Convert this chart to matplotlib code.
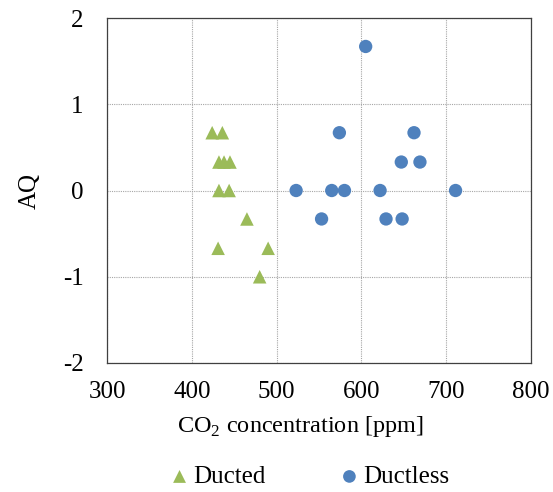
import matplotlib
matplotlib.use("Agg")
import matplotlib.pyplot as plt

plt.rcParams['font.family'] = ['Liberation Serif', 'DejaVu Serif']
plt.rcParams['mathtext.fontset'] = 'custom'
plt.rcParams['mathtext.rm'] = 'Liberation Serif'
plt.rcParams['axes.unicode_minus'] = False

# Ducted units: CO2 concentration [ppm] vs AQ
ducted_co2 = [424, 436, 432, 438, 445, 432, 444, 465, 431, 490, 480]
ducted_aq = [0.67, 0.67, 0.33, 0.33, 0.33, 0, 0, -0.33, -0.67, -0.67, -1]

# Ductless units
ductless_co2 = [605, 574, 662, 647, 669, 523, 565, 580, 622, 711, 553, 629, 648]
ductless_aq = [1.67, 0.67, 0.67, 0.33, 0.33, 0, 0, 0, 0, 0, -0.33, -0.33, -0.33]

fig = plt.figure(figsize=(5.53, 4.92), dpi=100)
ax = fig.add_axes([0.1935, 0.2622, 0.7668, 0.7012])

ax.scatter(ducted_co2, ducted_aq, marker='^', s=95, color='#9BBB59',
           edgecolors='none', label='Ducted', zorder=3)
ax.scatter(ductless_co2, ductless_aq, marker='o', s=92, color='#4F81BD',
           edgecolors='none', label='Ductless', zorder=3)

ax.set_xlim(300, 800)
ax.set_ylim(-2, 2)
ax.set_xticks([300, 400, 500, 600, 700, 800])
ax.set_yticks([-2, -1, 0, 1, 2])
ax.grid(True, color='#a6a6a6', linestyle=(0, (1, 1)), linewidth=0.8)
ax.set_axisbelow(True)
for s in ax.spines.values():
    s.set_color('#404040')
    s.set_linewidth(0.9)
ax.tick_params(axis='x', length=0, labelsize=18, pad=13)
ax.tick_params(axis='y', length=0, labelsize=18, pad=17)

ax.set_xlabel(r'CO$_\mathrm{2}$ concentration [ppm]', fontsize=17.5, labelpad=8)
ax.xaxis.label.set_x(0.455)  # title sits a little left of the plot centre
ax.set_ylabel('AQ', fontsize=18, labelpad=16)

fig.legend(loc='center', bbox_to_anchor=(0.555, 0.031), ncol=2, frameon=False,
           fontsize=18, handletextpad=-0.05, columnspacing=2.75, markerscale=0.95,
           handlelength=1.2, borderpad=0, borderaxespad=0)

fig.savefig('out.png', dpi=100)
